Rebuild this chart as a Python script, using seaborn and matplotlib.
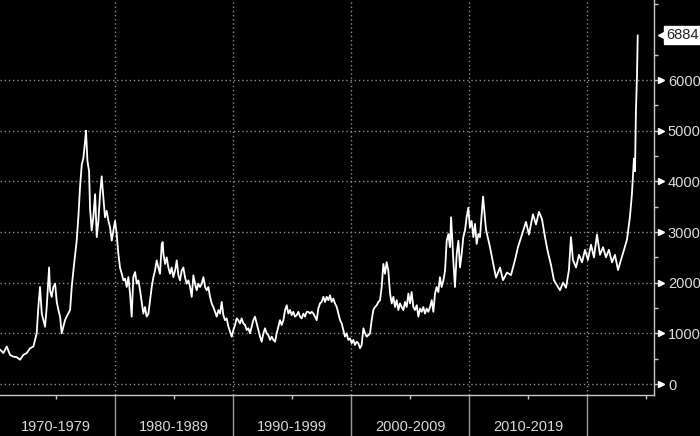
import numpy as np
import pandas as pd
import seaborn as sns
import matplotlib.pyplot as plt

# price series (decimal year, value)
years = [
    1970.25, 1970.54, 1970.82, 1971.10, 1971.38, 1971.67, 1971.95, 1972.23, 1972.51, 1972.80,
    1973.08, 1973.36, 1973.50, 1973.64, 1973.79, 1973.93, 1974.07, 1974.21, 1974.41, 1974.49,
    1974.63, 1974.77, 1974.92, 1975.06, 1975.20, 1975.34, 1975.48, 1975.62, 1975.76, 1975.90,
    1976.19, 1976.33, 1976.47, 1976.75, 1976.89,
    1977.03, 1977.18, 1977.32, 1977.46, 1977.54, 1977.66, 1977.80, 1977.88, 1978.02, 1978.16,
    1978.31, 1978.45, 1978.59, 1978.73, 1978.87, 1979.01, 1979.15, 1979.29, 1979.44, 1979.58,
    1979.72, 1979.86, 1980.00, 1980.14, 1980.28, 1980.42, 1980.57, 1980.71, 1980.85, 1980.99,
    1981.13, 1981.27, 1981.41, 1981.55, 1981.70, 1981.84, 1981.98, 1982.12, 1982.26, 1982.40,
    1982.54, 1982.68, 1982.83, 1982.97, 1983.11, 1983.25, 1983.39, 1983.53, 1983.67, 1983.81,
    1983.96, 1984.04, 1984.10, 1984.24, 1984.38, 1984.52, 1984.66, 1984.80, 1984.94, 1985.09,
    1985.23, 1985.37, 1985.51, 1985.65, 1985.79, 1985.93, 1986.07, 1986.22, 1986.36, 1986.50,
    1986.64, 1986.78, 1986.92, 1987.06, 1987.20, 1987.35, 1987.49, 1987.63, 1987.77, 1987.91,
    1988.05, 1988.19, 1988.33, 1988.48, 1988.62, 1988.76, 1988.90, 1989.04, 1989.18, 1989.32,
    1989.46, 1989.61, 1989.75, 1989.89, 1990.03, 1990.17, 1990.31, 1990.45, 1990.59,
    1990.73, 1990.88, 1991.02, 1991.16, 1991.30, 1991.44, 1991.58, 1991.72, 1991.86, 1992.01,
    1992.15, 1992.29, 1992.43, 1992.57, 1992.71, 1992.85, 1992.99, 1993.14, 1993.28, 1993.42,
    1993.56, 1993.70, 1993.84, 1993.98, 1994.12, 1994.27, 1994.41, 1994.55, 1994.69, 1994.83,
    1994.97, 1995.11, 1995.25, 1995.40, 1995.54, 1995.68, 1995.82, 1995.96, 1996.10, 1996.24,
    1996.38, 1996.53, 1996.67, 1996.81, 1996.95, 1997.09, 1997.23, 1997.37,
    1997.51, 1997.66, 1997.80, 1997.94, 1998.08, 1998.22, 1998.36, 1998.50, 1998.64, 1998.79,
    1998.93, 1999.07, 1999.21, 1999.35, 1999.49, 1999.63, 1999.77, 1999.92, 2000.06, 2000.20,
    2000.34, 2000.48, 2000.62, 2000.76, 2000.90, 2001.05, 2001.19, 2001.33, 2001.47, 2001.61,
    2001.75, 2001.89, 2002.03, 2002.18, 2002.32, 2002.46, 2002.60, 2002.74, 2002.88, 2003.02,
    2003.16, 2003.31, 2003.45, 2003.59, 2003.73, 2003.87, 2004.01, 2004.15,
    2004.29, 2004.44, 2004.58, 2004.72, 2004.86, 2005.00, 2005.14, 2005.28, 2005.42, 2005.57,
    2005.71, 2005.85, 2005.99, 2006.13, 2006.27, 2006.41, 2006.55, 2006.70, 2006.84, 2006.98,
    2007.12, 2007.26, 2007.40, 2007.54, 2007.68, 2007.83, 2007.97, 2008.11, 2008.25, 2008.39,
    2008.48, 2008.59, 2008.67, 2008.81, 2008.96, 2009.10, 2009.24, 2009.38, 2009.52, 2009.66,
    2009.80, 2009.94, 2010.08, 2010.22, 2010.37, 2010.51, 2010.65, 2010.79, 2010.93,
    2011.19, 2011.44, 2011.78, 2012.03, 2012.29, 2012.63, 2012.88, 2013.22, 2013.56, 2013.90,
    2014.15, 2014.49, 2014.83, 2015.08, 2015.42, 2015.68, 2015.93, 2016.19, 2016.44, 2016.69,
    2016.95, 2017.20, 2017.46, 2017.71, 2017.97, 2018.22, 2018.47, 2018.64, 2018.81, 2019.07,
    2019.32, 2019.58, 2019.83, 2020.08, 2020.34, 2020.59, 2020.85, 2021.10, 2021.36, 2021.61,
    2021.86, 2022.12, 2022.37, 2022.63, 2022.88, 2023.14, 2023.39, 2023.64, 2023.81, 2023.98,
    2024.07, 2024.15, 2024.24, 2024.30,
]
prices = [
    680, 610, 740, 575, 540, 530, 480, 575, 610, 705,
    740, 1000, 1520, 1915, 1390, 1260, 1130, 1520, 2300, 1850,
    1720, 1915, 1980, 1620, 1460, 1330, 1000, 1130, 1260, 1330,
    1460, 1915, 2240, 2830, 3290,
    3875, 4330, 4465, 4790, 5000, 4400, 4200, 3480, 3030, 3290,
    3745, 2900, 3220, 3745, 4100, 3680, 3290, 3420, 3220, 3090,
    2830, 3030, 3220, 2960, 2570, 2300, 2175, 2045, 2080, 1915,
    2110, 1785, 1330, 2110, 2210, 1980, 2045, 1850, 1620, 1390,
    1520, 1330, 1390, 1655, 1915, 2110, 2240, 2440, 2300, 2175,
    2765, 2800, 2570, 2370, 2500, 2300, 2175, 2300, 2110, 2240,
    2440, 2145, 2045, 2240, 2300, 2110, 1980, 2045, 1915, 1720,
    2145, 1980, 1850, 1980, 1915, 1980, 2110, 1915, 1850, 1915,
    1720, 1590, 1520, 1425, 1330, 1460, 1390, 1620, 1360, 1260,
    1295, 1130, 1030, 935, 1065, 1165, 1295, 1260, 1195,
    1295, 1195, 1165, 1065, 1100, 1000, 1130, 1260, 1330, 1195,
    1065, 935, 835, 1000, 1100, 1000, 965, 870, 935, 870,
    835, 1000, 1130, 1260, 1165, 1260, 1460, 1555, 1390, 1460,
    1360, 1425, 1330, 1360, 1425, 1330, 1295, 1390, 1330, 1425,
    1425, 1390, 1425, 1390, 1330, 1260, 1490, 1590,
    1620, 1720, 1620, 1720, 1655, 1750, 1620, 1685, 1590, 1520,
    1390, 1260, 1195, 1065, 935, 1000, 870, 900, 805, 870,
    770, 835, 805, 705, 770, 1100, 1000, 935, 965, 1000,
    1260, 1460, 1520, 1555, 1620, 1655, 1915, 2370, 2175, 2405,
    2240, 1785, 1590, 1720, 1520, 1655, 1460, 1590,
    1520, 1460, 1620, 1520, 1785, 1590, 1815, 1520, 1460, 1555,
    1330, 1490, 1425, 1520, 1390, 1490, 1425, 1520, 1655, 1425,
    1785, 1915, 1815, 2110, 1915, 2045, 2240, 2830, 2960, 2700,
    3290, 2830, 2440, 1915, 2570, 2830, 2300, 2570, 2900, 3030,
    3290, 3480, 3090, 3220, 2900, 3160, 2765, 2960, 2900,
    3700, 3050, 2700, 2400, 2100, 2300, 2050, 2200, 2150, 2450,
    2700, 2950, 3200, 2950, 3350, 3150, 3400, 3250, 2900, 2600,
    2350, 2050, 1950, 1850, 2000, 1900, 2250, 2900, 2450, 2300,
    2550, 2400, 2650, 2450, 2750, 2500, 2950, 2550, 2700, 2500,
    2650, 2400, 2550, 2250, 2450, 2650, 2850, 3300, 3750, 4450,
    4200, 5400, 6100, 6884,
]

decade_edges = [1980, 1990, 2000, 2010, 2020]
decade_mids = [1975, 1985, 1995, 2005, 2015, 2025]
decade_labels = ['1970-1979', '1980-1989', '1990-1999', '2000-2009', '2010-2019', '']
y_ticks = [0, 1000, 2000, 3000, 4000, 5000, 6000]
last_value = 6884

df = pd.DataFrame({'year': years, 'price': prices})

sns.set_theme(style='dark')
plt.rcParams['font.family'] = ['Liberation Sans', 'DejaVu Sans']

fig = plt.figure(figsize=(7, 4.36), dpi=100, facecolor='black')
ax = fig.add_axes([0, 41 / 436, 654 / 700, 395 / 436])
ax.set_facecolor('black')

sns.lineplot(data=df, x='year', y='price', ax=ax, color='white', linewidth=1.3)

ax.set_xlim(1970.25, 2025.68)
ax.set_ylim(-217, 7580)

grid_kw = dict(color='#8c8c8c', linewidth=1, linestyle=(0, (1, 2)), zorder=0)
for v in y_ticks:
    ax.axhline(v, **grid_kw)
for d in decade_edges:
    ax.axvline(d, **grid_kw)

for side in ['left', 'top']:
    ax.spines[side].set_visible(False)
for side in ['right', 'bottom']:
    ax.spines[side].set_visible(True)
    ax.spines[side].set_color('#c8c8c8')
    ax.spines[side].set_linewidth(1)

# right axis
ax.yaxis.tick_right()
ax.set_yticks(y_ticks)
ax.set_yticks(np.arange(500, 7600, 1000), minor=True)
ax.tick_params(axis='y', which='both', right=True, left=False, direction='out')
ax.tick_params(axis='y', which='major', length=3, width=1, color='#c8c8c8',
               pad=7, labelsize=10.5, labelcolor='#dcdcdc')
ax.tick_params(axis='y', which='minor', length=3, width=1, color='#c8c8c8')
ytr = ax.get_yaxis_transform()
ax.plot([1.011] * len(y_ticks), y_ticks, marker='>', markersize=4.5, linestyle='none',
        color='white', transform=ytr, clip_on=False)

# bottom axis: long ticks as decade separators, labels centred in each decade
ax.set_xticks(decade_edges)
ax.set_xticklabels([''] * len(decade_edges))
ax.set_xticks(decade_mids, minor=True)
ax.set_xticklabels(decade_labels, minor=True)
ax.tick_params(axis='x', which='both', bottom=True, top=False, direction='out')
ax.tick_params(axis='x', which='major', length=30, width=1, color='#9a9a9a')
ax.tick_params(axis='x', which='minor', length=3, width=1, color='#c8c8c8',
               pad=15, labelsize=10.5, labelcolor='#d8d8d8')
ax.set_xlabel('')
ax.set_ylabel('')
ax.grid(False)

# last value tag
ax.text(1.018, last_value, str(last_value), transform=ytr, fontsize=10.5, color='#202020',
        va='center', ha='left',
        bbox=dict(boxstyle='square,pad=0.15', fc='white', ec='white'), clip_on=False)
ax.plot([1.013], [last_value], marker='<', markersize=7, color='white',
        transform=ytr, clip_on=False)

plt.savefig('out.png', dpi=100, facecolor='black')
